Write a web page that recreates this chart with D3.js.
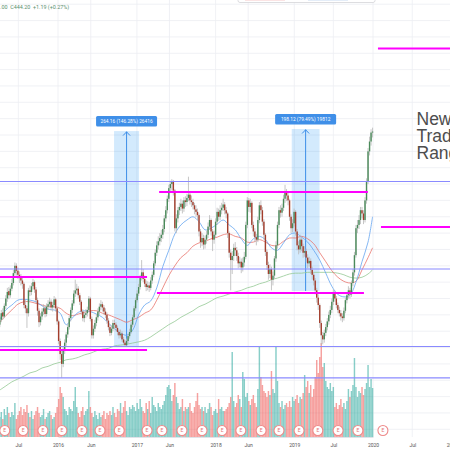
<!DOCTYPE html>
<html><head><meta charset="utf-8">
<script src="https://cdn.jsdelivr.net/npm/d3@7"></script>
<style>html,body{margin:0;padding:0;background:#fff;overflow:hidden}svg{display:block}</style>
</head><body>
<svg id="c" width="450" height="450"></svg>
<script>
// ---------- DATA ----------
const firstWeek = "2015-04-06"; // weekly candles, one per week from here
const opens = [
208,214,223,218,231,240,249,244,252,259,
271,280,274,269,265,262,258,232,228,222,
250,248,255,260,251,238,225,211,218,224,
228,221,230,233,236,229,232,239,228,212,
188,172,160,178,186,196,205,216,226,234,
246,250,252,244,236,224,216,220,222,226,
240,215,195,203,210,217,224,230,233,229,
224,220,213,205,198,203,210,208,204,199,
195,197,190,186,183,188,194,199,208,217,
228,238,246,254,265,272,264,258,254,256,
253,262,269,283,296,305,310,314,318,325,
338,348,362,375,380,383,372,326,338,348,
352,356,350,360,358,363,367,360,358,354,
349,346,342,322,309,314,306,312,318,328,
336,322,312,318,334,346,340,348,351,355,
348,344,320,296,287,292,302,299,292,283,
285,278,284,291,330,360,352,357,330,322,
315,312,336,354,348,334,318,297,281,270,
276,263,268,289,305,330,348,345,351,362,
370,366,360,340,326,332,346,322,305,300,
312,304,296,298,290,283,286,275,269,262,
250,241,232,210,195,190,198,205,212,220,
226,236,247,240,232,226,222,218,216,225,
238,244,250,245,259,272,293,326,330,336,
348,344,336,360,383,420,432,443];
const highs = [
218,226,228,234,244,253,254,256,264,275,
284,283,278,273,270,266,260,238,231,253,
256,259,264,262,254,241,228,222,228,233,
231,234,238,241,239,236,243,241,230,214,
191,176,181,190,199,209,219,229,238,250,
263,258,255,247,238,227,224,227,230,243,
242,218,207,214,221,228,234,238,236,232,
228,223,216,208,207,214,214,211,207,202,
202,200,193,189,191,197,203,211,220,231,
241,250,258,269,287,276,268,262,261,260,
266,273,286,300,310,316,320,324,330,342,
353,366,379,384,386,385,374,343,352,357,
362,360,364,365,368,389,371,366,362,357,
354,350,344,325,320,318,317,323,333,342,
338,325,323,338,351,350,354,357,362,358,
352,346,322,300,298,307,309,303,296,291,
289,290,297,334,364,363,362,359,334,326,
319,340,358,360,352,337,320,300,285,282,
279,273,292,310,334,352,354,356,367,379,
374,370,362,343,337,350,348,325,310,318,
315,307,304,301,294,291,289,279,272,265,
253,245,234,213,199,202,209,216,224,231,
240,251,250,243,235,230,226,222,229,241,
248,255,253,262,276,297,330,336,342,352,
352,348,364,387,424,438,447,449];
const lows = [
205,211,214,216,227,236,239,241,249,256,
268,268,264,259,256,252,228,222,204,218,
243,244,251,247,234,219,205,207,214,220,
217,218,226,229,225,224,228,224,208,184,
165,143,156,172,182,192,202,212,222,231,
242,245,240,232,220,212,211,216,218,223,
212,191,191,199,206,213,220,226,224,220,
216,209,201,194,195,200,203,200,195,191,
192,187,183,181,181,185,191,197,205,215,
225,235,243,251,262,260,254,249,250,248,
250,258,266,280,292,300,305,309,313,321,
334,344,358,369,372,366,322,320,333,342,
347,344,346,352,353,359,355,352,349,343,
340,336,316,302,304,300,301,307,314,324,
317,298,307,315,330,335,336,343,347,343,
338,314,290,250,270,286,292,286,277,278,
271,273,279,288,326,346,345,326,316,309,
305,309,332,343,329,312,292,275,263,265,
250,256,264,285,301,326,339,340,347,357,
359,354,335,320,321,328,317,299,294,296,
298,290,291,284,277,279,270,263,256,245,
235,226,204,183,184,186,194,201,208,216,
222,232,236,228,222,218,213,211,213,222,
234,240,240,242,255,268,290,320,325,331,
338,331,333,356,380,415,427,437];
const closes = [
214,222,218,231,240,248,244,252,259,271,
280,274,269,265,262,258,232,228,222,250,
248,255,260,251,238,225,211,218,224,228,
221,230,233,236,229,232,239,228,212,188,
172,160,178,186,196,205,216,226,234,246,
250,252,244,236,224,216,220,222,226,240,
215,195,203,210,217,224,230,233,229,224,
220,213,205,198,203,210,208,204,199,195,
197,190,186,183,188,194,199,208,217,228,
238,246,254,265,272,264,258,254,256,253,
262,269,283,296,305,310,314,318,325,338,
348,362,375,380,383,372,326,338,348,352,
356,350,360,358,363,367,360,358,354,349,
346,342,322,309,314,306,312,318,328,336,
322,312,318,334,346,340,348,351,355,348,
344,320,296,287,292,302,299,292,283,285,
278,284,291,330,360,352,357,330,322,315,
312,336,354,348,334,318,297,281,270,276,
263,268,289,305,330,348,345,351,362,370,
366,360,340,326,332,346,322,305,300,312,
304,296,298,290,283,286,275,269,262,250,
241,232,210,195,190,198,205,212,220,226,
236,247,240,232,226,222,218,216,225,238,
244,250,245,259,272,293,326,330,336,348,
344,336,360,383,420,432,443,444.2];
const volumes = [
20,25,18,28,22,30,24,20,25,22,
34,18,22,26,30,22,28,25,32,24,
20,26,18,22,26,30,24,20,22,28,
18,20,24,26,22,18,20,24,30,38,
50,44,40,28,26,22,30,28,26,36,
50,30,24,20,26,30,22,26,28,46,
30,24,20,26,22,18,24,20,22,26,
18,24,22,26,22,30,24,20,28,26,
34,24,30,36,26,22,30,28,32,30,
26,34,28,38,30,26,24,34,28,36,
24,40,32,30,26,34,30,28,32,36,
42,50,52,48,36,42,54,40,34,28,
30,38,26,30,28,30,34,26,24,30,
36,44,32,28,30,26,30,24,28,34,
30,22,26,28,24,38,28,30,26,26,
28,30,34,40,85,36,30,34,42,38,
30,65,58,40,44,36,32,38,42,34,
30,48,90,60,52,46,44,40,46,42,
66,48,44,91,56,34,30,36,28,32,
34,30,36,30,40,36,38,42,34,40,
38,44,62,50,56,44,52,40,48,60,
77,64,80,94,70,74,56,50,48,54,
46,50,30,34,28,32,38,30,34,28,
36,48,40,46,52,79,50,40,46,44,
50,42,48,54,72,50,58,49];
// moving averages, read every 4th week (plus the last week)
const maFast = [214,226,232,238,239,238,236,231,227,226,222,208,216,223,225,224,221,217,210,203,198,195,201,220,232,237,253,279,299,319,330,336,340,334,324,326,331,336,330,324,313,305,313,316,312,302,299,308,318,320,315,309,299,287,271,255,245,242,244,260,285,309,340];
const maMid = [211,219,226,233,236,236,234,232,230,230,228,222,219,221,223,225,225,222,220,217,214,211,214,217,222,226,238,253,268,280,290,296,304,308,310,313,315,318,319,316,314,309,309,312,309,305,305,310,314,314,316,313,307,296,285,274,266,261,259,261,275,290,302];
const maSlow = [128,133,138,141.5,145,149,151,155,157,160,162,165,166,168,171,173,176,178,179,182,183,184,185.5,187,189,193,198,203,208,212,217,221,225,230,233,237,241,243,245.5,248,250,253,255,258,260,263,265,267.5,270,271,271,272,272,272,272,272,271,269,266,265,266,270,275];
// axis
const tickDates = ["2015-07-01","2016-01-01","2016-06-01","2017-01-01","2017-06-01","2018-01-01","2018-06-01","2019-01-01","2019-07-01","2020-01-01","2020-07-01","2021-01-01"];
const tickLabels = ["Jul","2016","Jun","2017","Jun","2018","Jun","2019","Jul","2020","Jul","2021"];
// annotations
const bluePrices = [383.1, 276.1, 181.3, 142.8];
const magentaPrices = [545.8, 370.3, 327.5, 266.3, 246.7, 177.0];
const magentaFrom = ["2020-01-24","2017-04-14","2020-02-07","2015-03-01","2017-04-04","2015-03-01"];
const magentaTo = ["2021-06-01","2019-12-08","2021-06-01","2017-02-17","2019-11-20","2017-02-17"];
const measureFrom = ["2016-09-17","2018-12-20"];
const measureTo = ["2017-01-11","2019-04-28"];
const measureLow = [180.64, 249.24];
const measureHigh = [444.80, 447.36];
const measureLabels = ["264.16 (146.28%) 26416","198.12 (79.49%) 19812"];
const earnings = ["2015-04-29","2015-07-23","2015-10-23","2016-01-19","2016-04-21","2016-07-14","2016-10-11","2017-02-17","2017-04-27","2017-07-29","2017-10-30","2018-01-31","2018-04-28","2018-07-31","2018-10-22","2019-01-23","2019-04-20","2019-07-23","2019-10-23","2020-02-16"];
const legendText = ".00  C444.20  +1.19 (+0.27%)";
const noteLines = ["New","Trading","Range"];

// ---------- DRAW ----------
const W = 450, H = 450;
const parse = d3.utcParse("%Y-%m-%d");
const t0 = parse(firstWeek);
const dates = closes.map((_, i) => d3.utcWeek.offset(t0, i));
const x = d3.scaleUtc().domain([parse("2016-01-01"), parse("2020-01-01")]).range([58, 373]);
const y = d3.scaleLinear().domain([140, 600]).range([380.25, 4.2]);
const vy = d3.scaleLinear().domain([0, 100]).range([437, 337]);
const svg = d3.select("#c");

// grid
svg.append("g").selectAll("line").data(d3.range(80, 601, 20)).join("line")
  .attr("x1", 0).attr("x2", W).attr("y1", d => y(d)).attr("y2", d => y(d))
  .attr("stroke", "#eceef2").attr("stroke-width", 0.8);
svg.append("g").selectAll("line").data(tickDates).join("line")
  .attr("x1", d => x(parse(d))).attr("x2", d => x(parse(d))).attr("y1", 0).attr("y2", 437)
  .attr("stroke", "#eceef2").attr("stroke-width", 0.8);

// measurement boxes (background)
const mg = svg.append("g");
measureFrom.forEach((f, k) => {
  const x1 = x(parse(f)), x2 = x(parse(measureTo[k]));
  const yt = y(measureHigh[k]), yb = y(measureLow[k]);
  const cx = (x1 + x2) / 2;
  mg.append("rect").attr("x", x1).attr("y", yt).attr("width", x2 - x1).attr("height", yb - yt)
    .attr("fill", "#2196f3").attr("fill-opacity", 0.2);
  mg.append("line").attr("x1", cx).attr("x2", cx).attr("y1", yb).attr("y2", yt + 0.5)
    .attr("stroke", "#3d8ee8").attr("stroke-width", 1);
  mg.append("polyline").attr("points", `${cx-3.5},${yt+4.5} ${cx},${yt+0.8} ${cx+3.5},${yt+4.5}`)
    .attr("fill", "none").attr("stroke", "#3d8ee8").attr("stroke-width", 1);
  mg.append("rect").attr("x", cx - 30.5).attr("y", yt - 15).attr("width", 61).attr("height", 10.5)
    .attr("rx", 1.5).attr("fill", "#3f8fe8");
  mg.append("text").attr("x", cx).attr("y", yt - 8).attr("text-anchor", "middle")
    .attr("font-family", "Roboto, sans-serif").attr("font-size", 4.8).attr("fill", "#fff")
    .text(measureLabels[k]);
});

// volume
svg.append("g").selectAll("rect").data(volumes).join("rect")
  .attr("x", (d, i) => x(dates[i]) - 0.72).attr("width", 1.45)
  .attr("y", d => vy(d)).attr("height", d => vy(0) - vy(d))
  .attr("fill", (d, i) => closes[i] >= opens[i] ? "#26a69a" : "#ef5350")
  .attr("fill-opacity", 0.55);

// moving averages
const maIdx = d3.range(0, closes.length, 4).concat([closes.length - 1]);
const line = d3.line().x((d, k) => x(dates[maIdx[k]])).y(d => y(d)).curve(d3.curveCatmullRom);
[[maSlow, "#94c994"], [maMid, "#e8736c"], [maFast, "#64a4f0"]].forEach(([s, c]) => {
  svg.append("path").attr("d", line(s)).attr("fill", "none").attr("stroke", c).attr("stroke-width", 0.8);
});

// candles
const cg = svg.append("g");
cg.selectAll("line").data(closes).join("line")
  .attr("x1", (d, i) => x(dates[i])).attr("x2", (d, i) => x(dates[i]))
  .attr("y1", (d, i) => y(highs[i])).attr("y2", (d, i) => y(lows[i]))
  .attr("stroke", "#b8b8b8").attr("stroke-width", 0.8);
cg.selectAll("rect").data(closes).join("rect")
  .attr("x", (d, i) => x(dates[i]) - 0.7).attr("width", 1.4)
  .attr("y", (d, i) => y(Math.max(opens[i], d)))
  .attr("height", (d, i) => Math.max(0.8, Math.abs(y(opens[i]) - y(d))))
  .attr("fill", (d, i) => d >= opens[i] ? "#4a8a5a" : "#a33d2c");

// horizontal lines
svg.append("g").selectAll("line").data(bluePrices).join("line")
  .attr("x1", 0).attr("x2", W).attr("y1", d => y(d)).attr("y2", d => y(d))
  .attr("stroke", "#8a8aff").attr("stroke-width", 1.2);
svg.append("g").selectAll("line").data(magentaPrices).join("line")
  .attr("x1", (d, k) => x(parse(magentaFrom[k]))).attr("x2", (d, k) => x(parse(magentaTo[k])))
  .attr("y1", d => y(d)).attr("y2", d => y(d))
  .attr("stroke", "#ff00ff").attr("stroke-width", 2);

// earnings markers
const eg = svg.append("g").selectAll("g").data(earnings).join("g")
  .attr("transform", d => `translate(${x(parse(d))},430.5)`);
eg.append("circle").attr("r", 5).attr("fill", "#fff").attr("stroke", "#ee8a8a").attr("stroke-width", 1.1);
eg.append("text").attr("text-anchor", "middle").attr("y", 1.8)
  .attr("font-family", "Roboto, sans-serif").attr("font-size", 5).attr("fill", "#e57373").text("E");

// x axis
const ax = svg.append("g").attr("transform", "translate(0,437)")
  .call(d3.axisBottom(x).tickValues(tickDates.map(parse)).tickFormat((d, i) => tickLabels[i]).tickSize(0).tickPadding(6));
ax.select(".domain").attr("stroke", "#d8dbe2").attr("stroke-width", 0.8);
ax.selectAll("text").attr("font-family", "Roboto, sans-serif").attr("font-size", 5).attr("fill", "#555");

// legend
svg.append("text").attr("x", 0).attr("y", 8.5).attr("font-family", "Roboto, sans-serif")
  .attr("font-size", 5.4).attr("fill", "#5a8f6e").attr("xml:space", "preserve").text(legendText);

// toolbar edge at top
svg.append("rect").attr("x", 238).attr("y", -8).attr("width", 137).attr("height", 10.5).attr("rx", 2)
  .attr("fill", "#fff").attr("stroke", "#d4d4d8").attr("stroke-width", 0.8);
svg.append("rect").attr("x", 245).attr("y", -2).attr("width", 40).attr("height", 3).attr("fill", "#fbe4e4");
svg.append("rect").attr("x", 308).attr("y", -2).attr("width", 40).attr("height", 3).attr("fill", "#e4edf8");

// note (one text block, three lines)
const note = svg.append("text").attr("font-family", "'Liberation Sans', Arial, sans-serif")
  .attr("font-size", 17.5).attr("fill", "#4d4d4d");
note.selectAll("tspan").data(noteLines).join("tspan")
  .attr("x", 416.5).attr("y", (d, i) => 125 + i * 17).text(d => d);
</script>
</body></html>
